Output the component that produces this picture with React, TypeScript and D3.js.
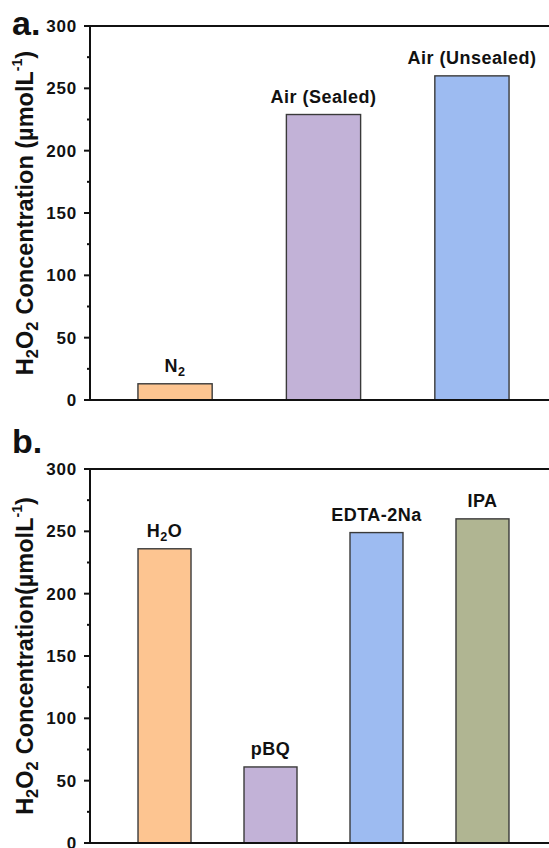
import React, { useRef, useEffect } from "react";
import * as d3 from "d3";

// panel a
const gasCategories = ["N2", "Air (Sealed)", "Air (Unsealed)"];
const gasValues = [13, 229, 260];
const gasColors = ["#FDC591", "#C2B2D7", "#9DBBF1"];

// panel b
const scavengerCategories = ["H2O", "pBQ", "EDTA-2Na", "IPA"];
const scavengerValues = [236, 61, 249, 260];
const scavengerColors = ["#FDC591", "#C2B2D7", "#9DBBF1", "#B0B592"];

const yTicks = [0, 50, 100, 150, 200, 250, 300];
const yMinorTicks = [25, 75, 125, 175, 225, 275];

const FONT = "Arial, 'Liberation Sans', Helvetica, sans-serif";

// write labels that contain sub/superscripts as tspans
const addRichText = (text, label) => {
  const parts = {
    N2: [["N", ""], ["2", "sub"]],
    H2O: [["H", ""], ["2", "sub"], ["O", ""]],
  };
  const pieces = parts[label] || [[label, ""]];
  pieces.forEach(([t, kind]) => {
    const ts = text.append("tspan").text(t);
    if (kind === "sub") ts.attr("font-size", "0.7em").attr("baseline-shift", "-0.3em");
  });
};

const drawPanel = (svg, opts) => {
  const { top, bottom, left, right, categories, values, colors, panelLabel, labelY, yTitleSpace } = opts;
  const g = svg.append("g");

  const x = d3.scaleBand().domain(categories).range([left, right]).paddingInner(0.5).paddingOuter(opts.outer);
  const y = d3.scaleLinear().domain([0, 300]).range([bottom, top]);

  // bars
  g.selectAll("rect.bar")
    .data(values)
    .enter()
    .append("rect")
    .attr("class", "bar")
    .attr("x", (d, i) => x(categories[i]))
    .attr("y", (d) => y(d))
    .attr("width", x.bandwidth())
    .attr("height", (d) => y(0) - y(d))
    .attr("fill", (d, i) => colors[i])
    .attr("stroke", "#3a3a3a")
    .attr("stroke-width", 1.4);

  // bar labels
  values.forEach((d, i) => {
    const t = g
      .append("text")
      .attr("x", x(categories[i]) + x.bandwidth() / 2)
      .attr("y", y(d) - 12)
      .attr("text-anchor", "middle")
      .attr("font-family", FONT)
      .attr("font-weight", "bold")
      .attr("font-size", 18)
      .attr("letter-spacing", 0.5)
      .attr("fill", "#111");
    addRichText(t, categories[i]);
  });

  // frame lines: left, bottom, top
  g.append("line").attr("x1", left).attr("x2", left).attr("y1", top).attr("y2", bottom)
    .attr("stroke", "#111").attr("stroke-width", 2);
  g.append("line").attr("x1", left - 6).attr("x2", right).attr("y1", bottom).attr("y2", bottom)
    .attr("stroke", "#111").attr("stroke-width", 2);
  g.append("line").attr("x1", left - 6).attr("x2", right).attr("y1", top).attr("y2", top)
    .attr("stroke", "#111").attr("stroke-width", 2);

  // y ticks
  g.selectAll("line.major")
    .data(yTicks)
    .enter()
    .append("line")
    .attr("x1", left - 6)
    .attr("x2", left)
    .attr("y1", (d) => y(d))
    .attr("y2", (d) => y(d))
    .attr("stroke", "#111")
    .attr("stroke-width", 2);
  g.selectAll("line.minor")
    .data(yMinorTicks)
    .enter()
    .append("line")
    .attr("x1", left - 3)
    .attr("x2", left)
    .attr("y1", (d) => y(d))
    .attr("y2", (d) => y(d))
    .attr("stroke", "#111")
    .attr("stroke-width", 2);
  g.selectAll("text.tick")
    .data(yTicks)
    .enter()
    .append("text")
    .attr("x", left - 13)
    .attr("y", (d) => y(d) + 6)
    .attr("text-anchor", "end")
    .attr("font-family", FONT)
    .attr("font-weight", "bold")
    .attr("font-size", 17)
    .attr("letter-spacing", 0.8)
    .attr("fill", "#111")
    .text((d) => d);

  // y title
  const yt = g
    .append("text")
    .attr("transform", `translate(33, ${(top + bottom) / 2}) rotate(-90)`)
    .attr("text-anchor", "middle")
    .attr("font-family", FONT)
    .attr("font-weight", "bold")
    .attr("font-size", 23.5)
    .attr("fill", "#111");
  yt.append("tspan").text("H");
  yt.append("tspan").text("2").attr("font-size", "0.7em").attr("baseline-shift", "-0.3em");
  yt.append("tspan").text("O");
  yt.append("tspan").text("2").attr("font-size", "0.7em").attr("baseline-shift", "-0.3em");
  yt.append("tspan").text(`Concentration${yTitleSpace ? " " : ""}(\u00b5molL`).attr("dx", 7);
  yt.append("tspan").text("-1").attr("font-size", "0.6em").attr("baseline-shift", "0.8em");
  yt.append("tspan").text(")");

  // panel letter
  g.append("text")
    .attr("x", 12)
    .attr("y", labelY)
    .attr("font-family", FONT)
    .attr("font-weight", "bold")
    .attr("font-size", 34)
    .attr("fill", "#111")
    .text(panelLabel);
};

const App = () => {
  const svgRef = useRef();

  useEffect(() => {
    const svg = d3.select(svgRef.current);
    svg.selectAll("*").remove();

    drawPanel(svg, {
      top: 26,
      bottom: 400,
      left: 90,
      right: 557,
      outer: 0.323,
      categories: gasCategories,
      values: gasValues,
      colors: gasColors,
      panelLabel: "a.",
      labelY: 35,
      yTitleSpace: true,
    });

    drawPanel(svg, {
      top: 469,
      bottom: 843,
      left: 90,
      right: 557,
      outer: 0.453,
      categories: scavengerCategories,
      values: scavengerValues,
      colors: scavengerColors,
      panelLabel: "b.",
      labelY: 453,
      yTitleSpace: false,
    });
  }, []);

  return (
    <svg
      ref={svgRef}
      width={549}
      height={848}
      style={{ position: "absolute", left: 0, top: 0, background: "#fff" }}
    ></svg>
  );
};

export default App;
